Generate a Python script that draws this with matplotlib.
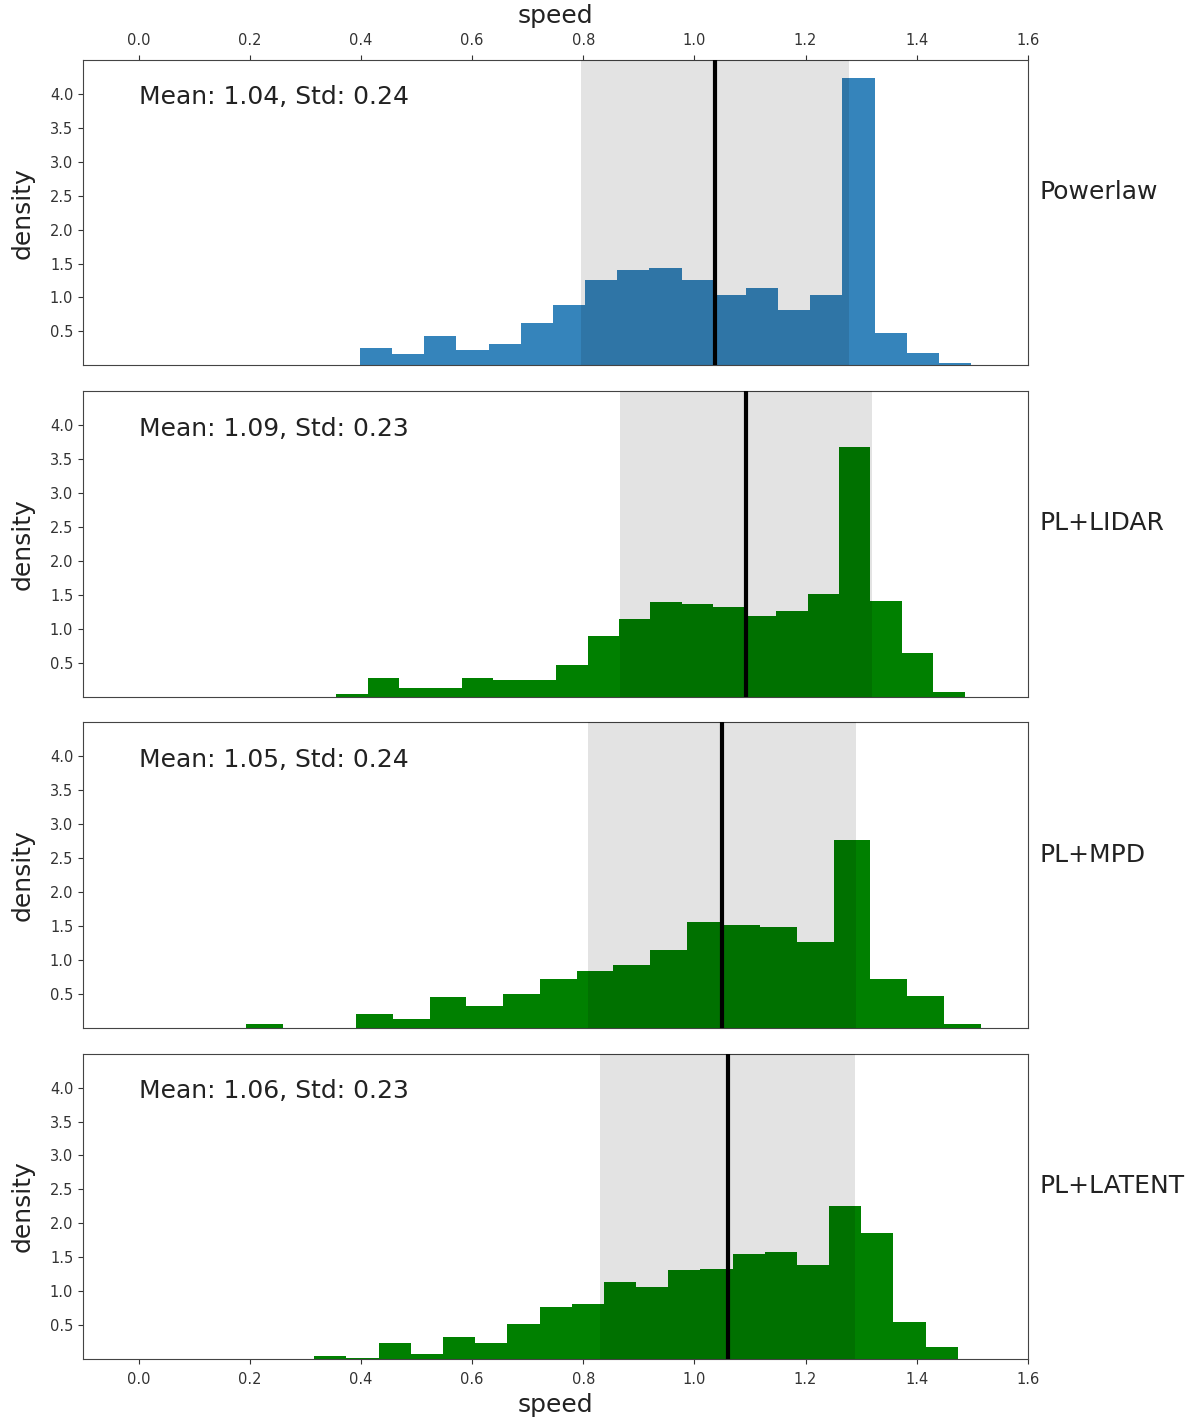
import numpy as np
import matplotlib.pyplot as plt

# panel names
models = ["Powerlaw", "PL+LIDAR", "PL+MPD", "PL+LATENT"]
colors = ["#1f77b4", "green", "green", "green"]
alphas = [0.9, 1.0, 1.0, 1.0]

# mean / std of speed per model
means = [1.037, 1.093, 1.050, 1.060]
stds = [0.241, 0.226, 0.241, 0.229]

# histogram bin ranges (first edge, last edge) and densities
pl_range = (0.398, 1.498)
pl_density = [0.25, 0.16, 0.43, 0.23, 0.32, 0.63, 0.89, 1.26, 1.41, 1.43,
              1.25, 1.04, 1.14, 0.82, 1.04, 4.23, 0.47, 0.18, 0.03]

lidar_range = (0.356, 1.486)
lidar_density = [0.03, 0.27, 0.13, 0.13, 0.27, 0.25, 0.25, 0.47, 0.89, 1.14,
                 1.39, 1.36, 1.32, 1.19, 1.26, 1.51, 3.68, 1.41, 0.64, 0.07]

mpd_range = (0.193, 1.515)
mpd_density = [0.05, 0.0, 0.0, 0.20, 0.13, 0.45, 0.32, 0.50, 0.72, 0.84,
               0.92, 1.14, 1.56, 1.51, 1.49, 1.26, 2.77, 0.72, 0.47, 0.05]

latent_range = (0.316, 1.474)
latent_density = [0.05, 0.02, 0.24, 0.07, 0.32, 0.24, 0.52, 0.76, 0.81, 1.14,
                  1.06, 1.31, 1.33, 1.55, 1.58, 1.38, 2.25, 1.85, 0.54, 0.17]

ranges = [pl_range, lidar_range, mpd_range, latent_range]
densities = [pl_density, lidar_density, mpd_density, latent_density]

yticks = [0.5, 1.0, 1.5, 2.0, 2.5, 3.0, 3.5, 4.0]
xticks = [0.0, 0.2, 0.4, 0.6, 0.8, 1.0, 1.2, 1.4, 1.6]

fig, axes = plt.subplots(4, 1, figsize=(11.98, 14.22), dpi=100, sharex=True)
fig.subplots_adjust(left=0.0693, right=0.858, top=0.9578, bottom=0.0443,
                    hspace=0.085)

for i, ax in enumerate(axes):
    dens = np.array(densities[i])
    edges = np.linspace(ranges[i][0], ranges[i][1], len(dens) + 1)
    ax.stairs(dens, edges, fill=True, color=colors[i], alpha=alphas[i],
              linewidth=0)
    ax.axvspan(means[i] - stds[i], means[i] + stds[i], color="k",
               alpha=0.11, linewidth=0, zorder=3)
    ax.axvline(means[i], color="k", linewidth=3, zorder=4)

    ax.text(0.0, 3.95, f"Mean: {means[i]:.2f}, Std: {stds[i]:.2f}",
            fontsize=18, va="center", ha="left", color="#222222")
    ax.text(1.012, 0.567, models[i], transform=ax.transAxes, fontsize=18,
            va="center", ha="left", color="#222222")

    ax.set_xlim(-0.1, 1.6)
    ax.set_ylim(0, 4.5)
    ax.set_yticks(yticks)
    ax.set_ylabel("density", fontsize=18, color="#222222", labelpad=11)
    ax.tick_params(axis="y", labelsize=10.5, colors="#333333")
    for sp in ax.spines.values():
        sp.set_color("#444444")

    if i == 0:
        ax.xaxis.tick_top()
        ax.xaxis.set_label_position("top")
        ax.set_xticks(xticks)
        ax.tick_params(axis="x", top=True, labeltop=True, bottom=False,
                       labelbottom=False, labelsize=10.5, colors="#333333",
                       pad=5.5)
        ax.set_xlabel("speed", fontsize=18, color="#222222", labelpad=7)
    elif i == len(axes) - 1:
        ax.set_xticks(xticks)
        ax.tick_params(axis="x", bottom=True, labelbottom=True, top=False,
                       labelsize=10.5, colors="#333333", pad=5.5)
        ax.set_xlabel("speed", fontsize=18, color="#222222", labelpad=5)
    else:
        ax.tick_params(axis="x", bottom=False, labelbottom=False, top=False)

# sharex turns off bottom labels on upper panels; restore top labels
axes[0].tick_params(axis="x", labeltop=True)

plt.savefig("out.png", dpi=100)
